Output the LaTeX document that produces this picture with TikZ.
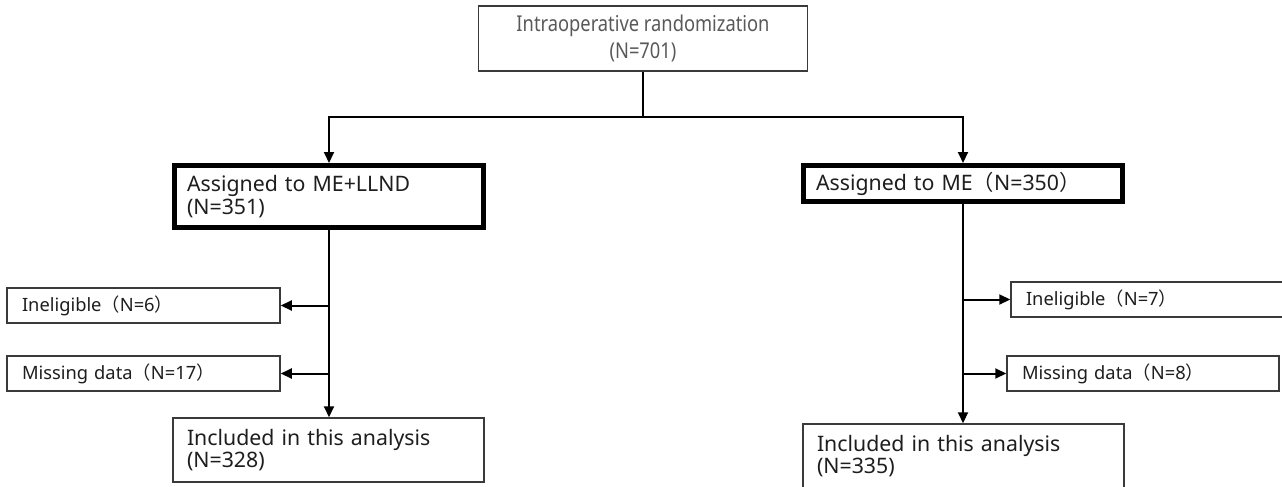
\documentclass[tikz,border=0pt]{standalone}
\usepackage{fontspec}
\setmainfont{Noto Sans}
\newfontfamily\cjk{Noto Sans CJK JP}
\newfontfamily\narrowfont{Noto Sans}[FakeStretch=0.84]
\newcommand\lp{{\cjk （}}
\newcommand\rp{{\cjk ）}}
\usetikzlibrary{arrows.meta}
\definecolor{ink}{HTML}{1E1E1E}
\definecolor{edge}{HTML}{3A3A3A}
\begin{document}
\begin{tikzpicture}[x=1pt,y=-1pt,
  thinbox/.style={draw=edge, line width=1.5pt, inner xsep=15pt, inner ysep=0pt, align=left, text=ink, font=\fontsize{18.3}{22}\selectfont},
  bigbox/.style={draw=edge, line width=1.5pt, inner xsep=14pt, inner ysep=0pt, align=left, text=ink, font=\fontsize{21.3}{22.5}\selectfont},
  thickbox/.style={draw=black, line width=5pt, inner xsep=12.5pt, inner ysep=0pt, align=left, text=ink, font=\fontsize{21.3}{22.5}\selectfont},
  topbox/.style={draw=edge, line width=1.5pt, inner sep=0pt, align=center, text=black!65, font=\narrowfont\fontsize{21.8}{27}\selectfont},
  conn/.style={draw=black, line width=2pt},
  arr/.style={conn, -{Triangle[length=11pt,width=10pt]}}]
\useasboundingbox (0,0) rectangle (1282,487);
\clip (0,0) rectangle (1282,487);
\fill[white] (0,0) rectangle (1282,487);
% top
\node[topbox, minimum width=329, minimum height=65] (top) at (643,38.5)
  {Intraoperative randomization\\(N=701)};
% arms
\node[thickbox, text width=284, minimum height=62] (a1) at (329,196.5)
  {Assigned to ME+LLND\\(N=351)};
\node[thickbox, text width=294, minimum height=36] (a2) at (963,183.5)
  {Assigned to ME\lp N=350\rp};
% exclusions left
\node[thinbox, text width=243, minimum height=35] (in1) at (143.5,305.5) {Ineligible\lp N=6\rp};
\node[thinbox, text width=243, minimum height=35] (mi1) at (143.5,373.5) {Missing data\lp N=17\rp};
% exclusions right
\node[thinbox, text width=254, minimum height=35] (in2) at (1153,299.5) {Ineligible\lp N=7\rp};
\node[thinbox, text width=242, minimum height=35] (mi2) at (1143,373.5) {Missing data\lp N=8\rp};
% included
\node[bigbox, text width=283, minimum height=64] (ic1) at (328.5,450) {Included in this analysis\\(N=328)};
\node[bigbox, text width=293, minimum height=64] (ic2) at (963.5,456) {Included in this analysis\\(N=335)};
% connectors
\coordinate (split) at (643,117);
\draw[conn] (top.south) -- (split);
\draw[arr] (split) -| (a1.north);
\draw[arr] (split) -| (a2.north);
\draw[arr] (a1.south) -- (a1.south |- ic1.north);
\draw[arr] (a1.south |- in1.east) -- (in1.east);
\draw[arr] (a1.south |- mi1.east) -- (mi1.east);
\draw[arr] (a2.south) -- (a2.south |- ic2.north);
\draw[arr] (a2.south |- in2.west) -- (in2.west);
\draw[arr] (a2.south |- mi2.west) -- (mi2.west);
\end{tikzpicture}
\end{document}
